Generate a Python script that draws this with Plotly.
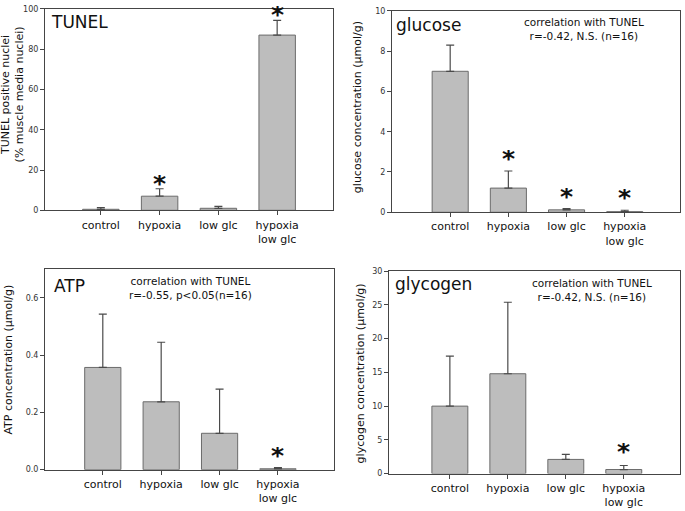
import plotly.graph_objects as go

categories = ["control", "hypoxia", "low glc", "hypoxia<br>low glc"]

tunel_mean = [0.5, 7.0, 1.0, 87.0]
tunel_err = [0.8, 3.7, 0.9, 7.3]
tunel_sig = [False, True, False, True]

glucose_mean = [7.0, 1.2, 0.12, 0.03]
glucose_err = [1.3, 0.85, 0.06, 0.07]
glucose_sig = [False, True, True, True]

atp_mean = [0.357, 0.237, 0.127, 0.003]
atp_err = [0.186, 0.208, 0.154, 0.004]
atp_sig = [False, False, False, True]

glycogen_mean = [10.0, 14.8, 2.1, 0.6]
glycogen_err = [7.4, 10.6, 0.75, 0.6]
glycogen_sig = [False, False, False, True]

W, H = 685, 511
FONT = "DejaVu Sans"
BAR_FILL = "#bdbdbd"
BAR_LINE = "#6b6b6b"
AXIS_COL = "#454545"

panels = [
    dict(name="TUNEL", mean=tunel_mean, err=tunel_err, sig=tunel_sig,
         box=(45, 333, 5, 210), yr=[0, 100], dt=20, fmt="d",
         ytitle="TUNEL positive nuclei<br>(% muscle media nuclei)", ytitle_xy=(12, 92),
         xr=[-0.95, 3.95], corr=None, title_xy=(49, 18), corr_xy=None, star_shift=6),
    dict(name="glucose", mean=glucose_mean, err=glucose_err, sig=glucose_sig,
         box=(392, 680, 7, 212), yr=[0, 10], dt=2, fmt="d",
         ytitle="glucose concentration (µmol/g)", ytitle_xy=(357, 105),
         xr=[-1.0, 3.95], corr="correlation with TUNEL<br>r=-0.42, N.S. (n=16)",
         title_xy=(394, 21), corr_xy=(584, 25), star_shift=13),
    dict(name="ATP", mean=atp_mean, err=atp_err, sig=atp_sig,
         box=(45, 334, 270, 474), yr=[0, 0.7], dt=0.2, fmt=".1f",
         ytitle="ATP concentration (µmol/g)", ytitle_xy=(9, 362),
         xr=[-0.99, 3.96], corr="correlation with TUNEL<br>r=-0.55, p<0.05(n=16)",
         title_xy=(52, 287), corr_xy=(190, 289), star_shift=13),
    dict(name="glycogen", mean=glycogen_mean, err=glycogen_err, sig=glycogen_sig,
         box=(389, 680, 272, 478), yr=[0, 30], dt=5, fmt="d",
         ytitle="glycogen concentration (µmol/g)", ytitle_xy=(360, 376),
         xr=[-1.05, 3.97], corr="correlation with TUNEL<br>r=-0.42, N.S. (n=16)",
         title_xy=(393, 285), corr_xy=(592, 291), star_shift=14),
]

fig = go.Figure()
annotations = []
for i, p in enumerate(panels, start=1):
    xa = "x" if i == 1 else f"x{i}"
    ya = "y" if i == 1 else f"y{i}"
    x0, x1, y0, y1 = p["box"]
    fig.add_trace(go.Bar(
        x=list(range(len(categories))), y=p["mean"],
        xaxis=xa, yaxis=ya, width=0.62,
        marker=dict(color=BAR_FILL, line=dict(color=BAR_LINE, width=1)),
        error_y=dict(type="data", array=p["err"], symmetric=False,
                     arrayminus=[0] * len(p["err"]),
                     color="#4a4a4a", thickness=1.2, width=4),
        showlegend=False, hoverinfo="skip",
    ))
    xkey = "xaxis" if i == 1 else f"xaxis{i}"
    ykey = "yaxis" if i == 1 else f"yaxis{i}"
    fig.update_layout({
        xkey: dict(domain=[x0 / W, x1 / W], anchor=ya, range=p["xr"],
                   tickmode="array", tickvals=list(range(len(categories))),
                   ticktext=categories, ticks="outside", ticklen=4,
                   tickcolor=AXIS_COL, showline=True, linecolor=AXIS_COL,
                   linewidth=1, mirror=True, showgrid=False, zeroline=False,
                   tickfont=dict(family=FONT, size=11, color="#111")),
        ykey: dict(domain=[1 - y1 / H, 1 - y0 / H], anchor=xa, range=p["yr"],
                   dtick=p["dt"], tickformat=p["fmt"], ticks="outside",
                   ticklen=4, tickcolor=AXIS_COL, showline=True,
                   linecolor=AXIS_COL, linewidth=1, mirror=True,
                   showgrid=False, zeroline=False,
                   tickfont=dict(family=FONT, size=8, color="#333")),
    })
    # y-axis title
    yx, yy = p["ytitle_xy"]
    annotations.append(dict(x=yx / W, y=1 - yy / H, xref="paper", yref="paper",
                            xanchor="center", yanchor="middle", showarrow=False,
                            textangle=-90, text=p["ytitle"],
                            font=dict(family=FONT, size=11, color="#111")))
    # panel title
    tx, ty = p["title_xy"]
    annotations.append(dict(x=tx / W, y=1 - ty / H, xref="paper", yref="paper",
                            xanchor="left", yanchor="middle", showarrow=False,
                            text=p["name"],
                            font=dict(family=FONT, size=17, color="#111")))
    if p["corr"]:
        cx, cy = p["corr_xy"]
        annotations.append(dict(x=cx / W, y=1 - cy / H, xref="paper", yref="paper",
                                xanchor="center", yanchor="middle", showarrow=False,
                                text=p["corr"],
                                font=dict(family=FONT, size=10.5, color="#111")))
    for j, s in enumerate(p["sig"]):
        if s:
            annotations.append(dict(x=j, y=p["mean"][j] + p["err"][j],
                                    xref=xa, yref=ya, xanchor="center",
                                    yanchor="middle", yshift=p["star_shift"],
                                    height=16, showarrow=False,
                                    text="<b>*</b>",
                                    font=dict(family=FONT, size=25, color="#111")))

fig.update_layout(width=W, height=H, margin=dict(l=0, r=0, t=0, b=0),
                  paper_bgcolor="white", plot_bgcolor="white",
                  annotations=annotations, bargap=0.4)
fig.write_html("out.html", config={"displayModeBar": False},
               post_script="document.body.style.margin='0';document.body.style.overflow='hidden';")
